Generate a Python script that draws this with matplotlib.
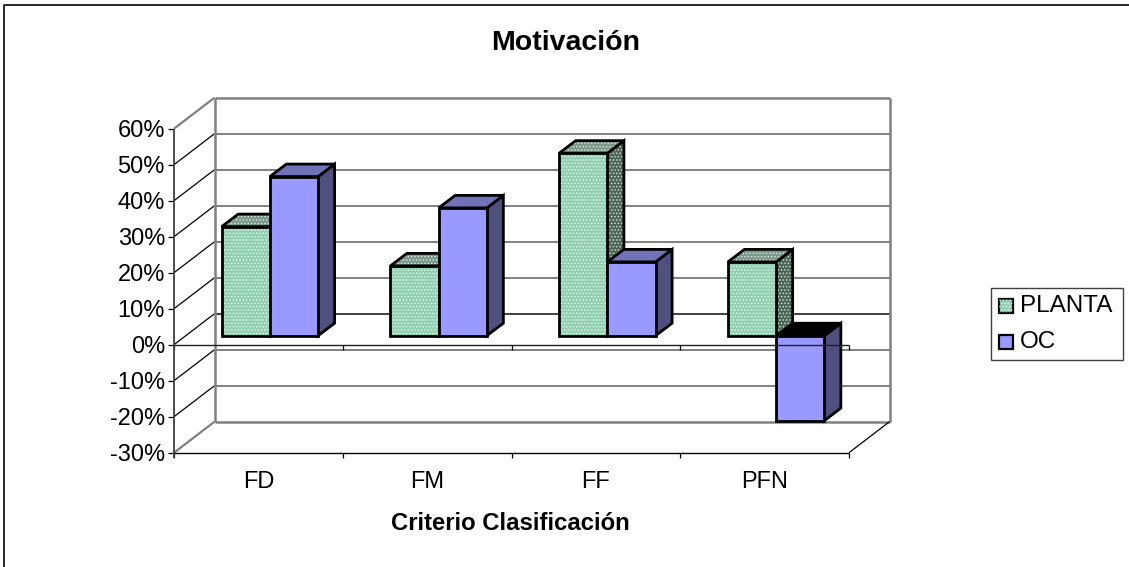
import matplotlib
matplotlib.use('Agg')
import numpy as np
from matplotlib import pyplot as plt
from matplotlib.patches import Polygon

categories = ['FD', 'FM', 'FF', 'PFN']
planta = [30.3, 19.4, 50.7, 20.5]
oc = [44.2, 35.5, 20.5, -23.6]
yticks = [-30, -20, -10, 0, 10, 20, 30, 40, 50, 60]

W, H = 1129, 567
plt.rcParams['font.family'] = ['Liberation Sans', 'DejaVu Sans']
plt.rcParams['hatch.linewidth'] = 0.8

fig = plt.figure(figsize=(W / 100, H / 100), dpi=100)
# front plane of the box in pixels
left, right, top, bottom = 174.0, 849.0, 128.7, 452.7
ax = fig.add_axes([left / W, 1 - bottom / H, (right - left) / W, (bottom - top) / H])
ax.set_xlim(0, 4)
ax.set_ylim(-30, 60)
ax.patch.set_visible(False)

# depth of the box in data units
DX = 40.5 / (right - left) * 4
DY = 31.0 / (bottom - top) * 90


def poly(pts, **kw):
    p = Polygon(pts, closed=True, clip_on=False, **kw)
    ax.add_patch(p)


def line(xs, ys, color='black', lw=0.9, z=1):
    ax.plot(xs, ys, color=color, lw=lw, clip_on=False, zorder=z, solid_capstyle='butt')


# walls and floor
for v in yticks:
    c = '#404040' if v == 0 else '#808080'
    edge = v in (60, -30)
    line([DX, 4 + DX], [v + DY, v + DY], c, 1.8 if edge else 1.4)
    line([0, DX], [v, v + DY], '#808080' if edge else 'black', 1.6 if edge else 0.9)
line([DX, DX], [-30 + DY, 60 + DY], '#808080', 1.8)
line([4 + DX, 4 + DX], [-30 + DY, 60 + DY], '#808080', 1.8)
line([4, 4 + DX], [-30, -30 + DY], 'black', 0.9)
line([0, 4], [-30, -30], 'black', 1.0, 2)

# bars sit in the middle of the depth
bar_w = 48.2 / (right - left) * 4
start = 47.7 / (right - left) * 4
bdx = 16.5 / (right - left) * 4
bdy = 12.5 / (bottom - top) * 90
base_off = 9.0 / (bottom - top) * 90


def box(x0, v, front, topc, side, hatched, z):
    x1 = x0 + bar_w
    y0 = base_off
    y1 = v + base_off
    ytop = max(y0, y1)
    lw = 2.0
    faces = [
        ([(x1, y0), (x1 + bdx, y0 + bdy), (x1 + bdx, y1 + bdy), (x1, y1)], side),
        ([(x0, ytop), (x0 + bdx, ytop + bdy), (x1 + bdx, ytop + bdy), (x1, ytop)], topc),
        ([(x0, y0), (x1, y0), (x1, y1), (x0, y1)], front),
    ]
    for pts, col in faces:
        poly(pts, facecolor=col, edgecolor='none', zorder=z)
        if hatched:
            # dithered fill
            poly(pts, facecolor='none', edgecolor='#ffffffa8', hatch='.....', lw=0, zorder=z)
        poly(pts, facecolor='none', edgecolor='black', lw=lw, joinstyle='miter', zorder=z)


for i in range(4):
    x0 = i + start
    if oc[i] < 0:
        box(x0 + bar_w, oc[i], '#9999ff', 'black', '#4f4f80', False, 3)
        box(x0, planta[i], '#8fcfb0', '#769686', '#486452', True, 4)
    else:
        box(x0, planta[i], '#8fcfb0', '#769686', '#486452', True, 3)
        box(x0 + bar_w, oc[i], '#9999ff', '#7272b8', '#4f4f80', False, 4)

# axis lines over the bars
line([0, 4], [0, 0], '#202020', 1.0, 5)
for x in range(5):
    line([x, x], [0, -1.6], 'black', 0.9, 5)
    line([x, x], [-30, -31.6], 'black', 0.9, 5)
line([0, 0], [-31.6, 60], '#404040', 1.3, 5)

for s in ax.spines.values():
    s.set_visible(False)
ax.set_xticks(np.arange(4) + 0.5)
ax.set_xticklabels(categories)
ax.set_yticks(yticks)
ax.set_yticklabels([str(v) + '%' for v in yticks])
ax.tick_params(axis='x', length=0, labelsize=17, pad=13)
ax.tick_params(axis='y', length=4, width=0.9, labelsize=17, pad=2.5)

fig.text(566 / W, 1 - 43 / H, 'Motivación', fontsize=20.5, fontweight='bold', ha='center', va='center')
fig.text(510.5 / W, 1 - 524 / H, 'Criterio Clasificación', fontsize=17.2, fontweight='bold', ha='center', va='center')

# chart border
bg = fig.add_axes([0, 0, 1, 1], zorder=-1)
bg.set_xlim(0, W)
bg.set_ylim(H, 0)
bg.axis('off')
bg.plot([3.5, 3.5, W + 2], [H + 2, 5, 5], color='black', lw=1.2)

# legend
bg.add_patch(Polygon([(990.5, 287.5), (1122.5, 287.5), (1122.5, 360), (990.5, 360)],
                     facecolor='white', edgecolor='#404040', lw=1.0))
bg.add_patch(Polygon([(999, 299), (1013, 299), (1013, 313), (999, 313)], facecolor='#8fcfb0',
                     edgecolor='black', lw=1.6))
bg.add_patch(Polygon([(999, 299), (1013, 299), (1013, 313), (999, 313)], facecolor='none',
                     edgecolor='#ffffffa8', hatch='.....', lw=0))
bg.add_patch(Polygon([(999, 335), (1013, 335), (1013, 349), (999, 349)], facecolor='#9999ff',
                     edgecolor='black', lw=1.6))
bg.text(1020, 306, 'PLANTA', fontsize=17.5, va='center', ha='left')
bg.text(1020, 342.5, 'OC', fontsize=17.5, va='center', ha='left')

fig.savefig('out.png', dpi=100)
